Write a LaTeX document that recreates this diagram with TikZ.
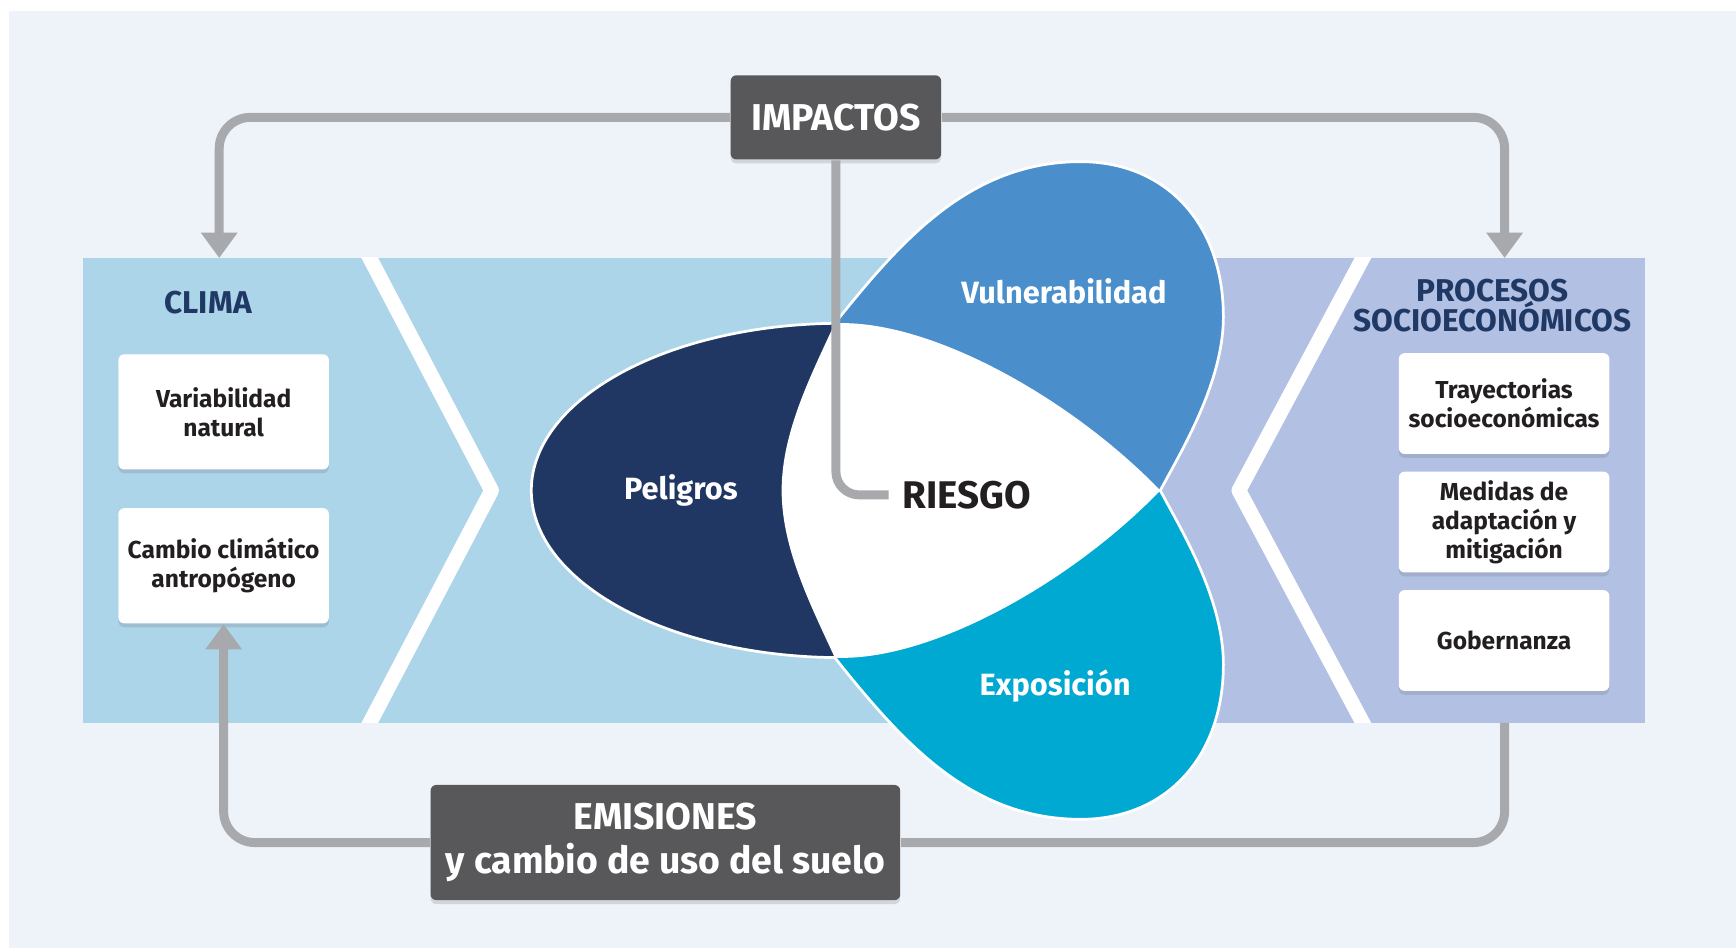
\documentclass[tikz,border=0pt]{standalone}
\usepackage{fontspec}
\setmainfont{Fira Sans}
\usetikzlibrary{arrows.meta}
\usetikzlibrary{shadows}

\definecolor{bgpale}{RGB}{238,243,250}
\definecolor{bandblue}{RGB}{172,213,234}
\definecolor{bandlav}{RGB}{177,192,227}
\definecolor{hazardnavy}{RGB}{33,55,99}
\definecolor{vulnblue}{RGB}{74,143,203}
\definecolor{exposcyan}{RGB}{0,169,209}
\definecolor{loopgray}{RGB}{167,169,172}
\definecolor{boxgray}{RGB}{88,88,90}
\definecolor{titlenavy}{RGB}{31,56,100}
\definecolor{inkdark}{RGB}{35,31,32}

\begin{document}
\begin{tikzpicture}[
    x=0.01cm, y=-0.01cm,
    feedback/.style={draw=loopgray, line width=2.3pt, rounded corners=8pt},
    loophead/.style={-{Triangle[width=9pt,length=6.5pt]}},
    softshadow/.style={drop shadow={shadow xshift=0pt, shadow yshift=-1pt, opacity=.2, fill=black!60}},
    darkbox/.style={fill=boxgray, text=white, rounded corners=1.5pt, align=center, inner sep=0pt,
      font=\bfseries\fontsize{9.6}{11.2}\selectfont, softshadow},
    whitebox/.style={fill=white, text=inkdark, rounded corners=1.5pt, align=center, inner sep=0pt,
      minimum width=1.9cm, font=\bfseries\fontsize{6.3}{7.5}\selectfont, softshadow},
    heading/.style={text=titlenavy, align=center, font=\bfseries\fontsize{8.1}{7.7}\selectfont},
    petal/.style={draw=white, line width=0.7pt},
    petallabel/.style={text=white, font=\bfseries\fontsize{7.9}{9}\selectfont},
    chevron/.style={draw=white, line width=3.8pt, line join=round},
  ]
  \useasboundingbox (0,0) rectangle (1568,856);
  \fill[white] (0,0) rectangle (1568,856);
  \fill[bgpale] (8,10) rectangle (1568,856);

  % bands
  \fill[bandblue] (75,233) rectangle (1040,653);
  \fill[bandlav] (1040,233) rectangle (1486,653);
  \begin{scope}
    \clip (75,233) rectangle (1486,653);
    \draw[chevron] (279,128) -- (444,443) -- (279,758);
    \draw[chevron] (1287,128) -- (1119,443) -- (1287,758);
  \end{scope}

  % petals
  \fill[vulnblue, petal] (754,292) .. controls (814,217) and (876,146) .. (976,146)
    .. controls (1053,146) and (1105,202) .. (1105,286)
    .. controls (1105,346) and (1066,409) .. (1048,443) -- (760,443) -- cycle;
  \fill[exposcyan, petal] (754,594) .. controls (814,669) and (876,740) .. (976,740)
    .. controls (1053,740) and (1105,684) .. (1105,600)
    .. controls (1105,540) and (1066,477) .. (1048,443) -- (760,443) -- cycle;
  \fill[hazardnavy, petal] (755,292) arc[start angle=-91, end angle=-269, x radius=280, y radius=151]
    -- (765,443) -- cycle;
  \fill[white] (1048,443) .. controls (968,360) and (840,288) .. (754,292)
    .. controls (733,338) and (706,390) .. (706,443)
    .. controls (706,496) and (733,548) .. (754,594)
    .. controls (840,598) and (968,526) .. (1048,443) -- cycle;

  % nodes
  \node[darkbox, minimum width=1.9cm, minimum height=0.76cm] (impactos) at (755,106) {IMPACTOS};
  \node[darkbox, minimum width=4.24cm, minimum height=1.04cm] (emisiones) at (601,761)
    {EMISIONES\\y cambio de uso del suelo};

  \node[heading] (clima) at (188,273) {CLIMA};
  \node[whitebox, minimum height=1.04cm] (variab) at (202,372) {Variabilidad\\natural};
  \node[whitebox, minimum height=1.04cm] (cambio) at (202,511) {Cambio climático\\antropógeno};

  \node[heading] (procesos) at (1348,276) {PROCESOS\\[-1.4pt]SOCIOECONÓMICOS};
  \node[whitebox, minimum height=0.91cm] (trayec) at (1358.5,364.5) {Trayectorias\\socioeconómicas};
  \node[whitebox, minimum height=0.91cm] (medidas) at (1358.5,471.5) {Medidas de\\adaptación y\\mitigación};
  \node[whitebox, minimum height=0.91cm] (gobern) at (1358.5,578.5) {Gobernanza};

  \node[petallabel] (peligros) at (615,443) {Peligros};
  \node[petallabel] (vulner) at (961,263) {Vulnerabilidad};
  \node[petallabel] (exposic) at (953,620) {Exposición};
  \node[text=inkdark, font=\bfseries\fontsize{9.9}{11}\selectfont] (riesgo) at (873,447) {RIESGO};

  % connectors
  \coordinate (climain) at (198,233);
  \coordinate (procin) at (1359,233);
  \coordinate (procout) at (1359,653);
  \draw[feedback, loophead] (impactos.west) -| (climain);
  \draw[feedback, loophead] (impactos.east) -| (procin);
  \draw[feedback] (procout) |- (emisiones.east);
  \draw[feedback, loophead] (emisiones.west) -| (cambio.south);
  \draw[feedback, rounded corners=6pt] (impactos.south) |- (riesgo.west);
\end{tikzpicture}
\end{document}
